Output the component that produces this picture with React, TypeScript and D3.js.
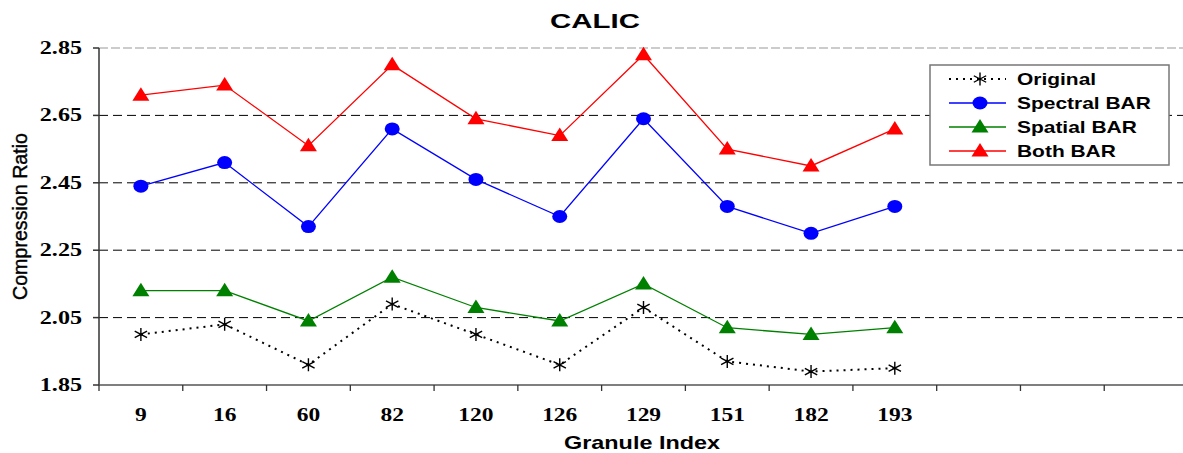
import React from "react";
import * as d3 from "d3";

const categories = ["9", "16", "60", "82", "120", "126", "129", "151", "182", "193", "", "", ""];
const original = [2.0, 2.03, 1.91, 2.09, 2.0, 1.91, 2.08, 1.92, 1.89, 1.9];
const spectralBAR = [2.44, 2.51, 2.32, 2.61, 2.46, 2.35, 2.64, 2.38, 2.3, 2.38];
const spatialBAR = [2.13, 2.13, 2.04, 2.17, 2.08, 2.04, 2.15, 2.02, 2.0, 2.02];
const bothBAR = [2.71, 2.74, 2.56, 2.8, 2.64, 2.59, 2.83, 2.55, 2.5, 2.61];
const yTicks = [1.85, 2.05, 2.25, 2.45, 2.65, 2.85];

const W = 1183, H = 453;
const left = 99, right = 1188, top = 48, bottom = 385;
const SX = 1.27;
const SANS = "Arial, Liberation Sans, sans-serif";
const SERIF = "Liberation Serif, Times New Roman, serif";

const series = [
  { name: "Original", values: original, color: "#000", marker: "star", dash: "2,5", width: 2 },
  { name: "Spectral BAR", values: spectralBAR, color: "#0000ff", marker: "circle", dash: null, width: 1.3 },
  { name: "Spatial BAR", values: spatialBAR, color: "#008000", marker: "triangle", dash: null, width: 1.3 },
  { name: "Both BAR", values: bothBAR, color: "#ff0000", marker: "triangle", dash: null, width: 1.3 },
];

function T({ x, y, anchor = "start", family = SANS, size, weight = "bold", sx = SX, children }: any) {
  return (
    <text
      transform={`translate(${x},${y}) scale(${sx},1)`}
      textAnchor={anchor}
      fontFamily={family}
      fontSize={size}
      fontWeight={weight}
      fill="#000"
    >
      {children}
    </text>
  );
}

function Marker({ type, x, y, color }: { type: string; x: number; y: number; color: string }) {
  if (type === "circle") return <ellipse cx={x} cy={y} rx={7.5} ry={6.5} fill={color} />;
  if (type === "triangle")
    return <path d={`M${x},${y - 8} L${x + 8.5},${y + 5.5} L${x - 8.5},${y + 5.5} Z`} fill={color} />;
  const r = 6.5;
  const a = r * 0.95;
  return (
    <path
      d={`M${x},${y - r}L${x},${y + r}M${x - a},${y - r / 2}L${x + a},${y + r / 2}M${x - a},${y + r / 2}L${x + a},${y - r / 2}`}
      stroke={color}
      strokeWidth={1.4}
      fill="none"
    />
  );
}

export default function App() {
  const x = d3.scaleBand<number>().domain(d3.range(categories.length)).range([left, right]).padding(0);
  const y = d3.scaleLinear().domain([1.85, 2.85]).range([bottom, top]);
  const cx = (i: number) => (x(i) as number) + x.bandwidth() / 2;
  const line = d3
    .line<number>()
    .x((_, i) => cx(i))
    .y((d) => y(d));

  const legendRows = [79, 103, 127, 151];

  return (
    <svg width={W} height={H} style={{ position: "absolute", left: 0, top: 0, background: "#fff" }}>
      <rect x={0} y={0} width={W} height={H} fill="#fff" />
      <T x={595} y={28} anchor="middle" size={21} sx={1.4}>
        CALIC
      </T>
      {yTicks.map((t) => (
        <g key={t}>
          {t !== 1.85 && (
            <line
              x1={left}
              x2={right}
              y1={y(t)}
              y2={y(t)}
              stroke={t === 2.85 ? "#999" : "#000"}
              strokeWidth={1}
              strokeDasharray={t === 2.85 ? "9,3" : "9,5"}
            />
          )}
          <line x1={left - 6} x2={left} y1={y(t)} y2={y(t)} stroke="#333" strokeWidth={1.5} />
          <T x={82} y={y(t) + 6} anchor="end" family={SERIF} size={19}>
            {t.toFixed(2)}
          </T>
        </g>
      ))}
      <line x1={left} x2={left} y1={top} y2={bottom} stroke="#333" strokeWidth={1.5} />
      <line x1={left} x2={right} y1={bottom} y2={bottom} stroke="#555" strokeWidth={1.5} />
      {d3.range(categories.length + 1).map((i) => {
        const xx = left + i * x.bandwidth();
        return <line key={i} x1={xx} x2={xx} y1={bottom} y2={bottom + 6} stroke="#333" strokeWidth={1.3} />;
      })}
      {categories.map((c, i) => (
        <T key={i} x={cx(i)} y={421} anchor="middle" family={SERIF} size={18.5}>
          {c}
        </T>
      ))}
      <T x={642} y={449} anchor="middle" size={18} sx={1.3}>
        Granule Index
      </T>
      <text
        transform={`translate(27,${(top + bottom) / 2}) rotate(-90) scale(1,1.2)`}
        textAnchor="middle"
        fontFamily={SANS}
        fontSize={17}
        textLength={167}
        lengthAdjust="spacingAndGlyphs"
        stroke="#000"
        strokeWidth={0.35}
      >
        Compression Ratio
      </text>
      {series.map((s) => (
        <g key={s.name}>
          <path
            d={line(s.values) || ""}
            fill="none"
            stroke={s.color}
            strokeWidth={s.width}
            strokeDasharray={s.dash || undefined}
          />
          {s.values.map((v, i) => (
            <Marker key={i} type={s.marker} x={cx(i)} y={y(v)} color={s.color} />
          ))}
        </g>
      ))}
      <rect x={930} y={65} width={239} height={100} fill="#fff" stroke="#777" strokeWidth={1.5} />
      {series.map((s, i) => (
        <g key={s.name}>
          <line
            x1={949}
            x2={1006}
            y1={legendRows[i]}
            y2={legendRows[i]}
            stroke={s.color}
            strokeWidth={s.width}
            strokeDasharray={s.dash || undefined}
          />
          <Marker type={s.marker} x={980} y={legendRows[i]} color={s.color} />
          <T x={1017} y={legendRows[i] + 6} size={16.5}>
            {s.name}
          </T>
        </g>
      ))}
    </svg>
  );
}
